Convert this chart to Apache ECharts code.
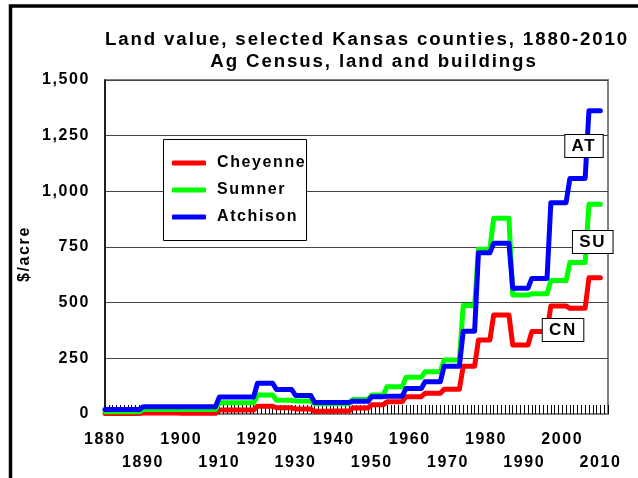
<!DOCTYPE html>
<html>
<head>
<meta charset="utf-8">
<script src="https://cdn.jsdelivr.net/npm/echarts@6/dist/echarts.min.js"></script>
<style>
  html, body { margin: 0; padding: 0; background: #fff; }
  #chart { width: 638px; height: 478px; }
</style>
</head>
<body>
<div id="chart"></div>
<script>
// Ag Census years, land and buildings, $/acre
const censusYears = [1880, 1890, 1900, 1910, 1920, 1925, 1930, 1935, 1940, 1945, 1950, 1954,
  1959, 1964, 1969, 1974, 1978, 1982, 1987, 1992, 1997, 2002, 2007]
const lastYear = 2010

const cheyenne = [2, 4, 3, 18, 35, 28, 22, 12, 13, 27, 41, 55,
  78, 93, 111, 215, 332, 445, 310, 370, 485, 475, 612]
const sumner = [10, 20, 20, 50, 85, 62, 58, 46, 46, 65, 85, 122,
  165, 190, 243, 487, 740, 879, 534, 540, 599, 680, 942]
const atchison = [20, 33, 33, 76, 138, 110, 83, 52, 52, 57, 78, 80,
  115, 145, 215, 372, 724, 767, 565, 609, 949, 1058, 1362]

const decadeLabels = [1880, 1890, 1900, 1910, 1920, 1930, 1940, 1950, 1960, 1970, 1980, 1990, 2000, 2010]

// where the series tags sit (year, $/acre)
const tagAT = [2005.7, 1204]
const tagSU = [2008, 772]
const tagCN = [2000.2, 377]

const FONT = "'Liberation Sans', Arial, sans-serif"

// Excel-style wide letter spacing, about a tenth of the font size
const ctxProto = CanvasRenderingContext2D.prototype
const origFillText = ctxProto.fillText
const origStrokeText = ctxProto.strokeText
const setSpacing = (ctx) => {
  const m = /(\d+(?:\.\d+)?)px/.exec(ctx.font)
  ctx.letterSpacing = m ? (parseFloat(m[1]) * 0.1).toFixed(2) + 'px' : '0px'
}
ctxProto.fillText = function () {
  setSpacing(this)
  return origFillText.apply(this, arguments)
}
ctxProto.strokeText = function () {
  setSpacing(this)
  return origStrokeText.apply(this, arguments)
}

// each census value holds until the year before the next census
const holdSteps = (values) => {
  const pts = []
  censusYears.forEach((y, i) => {
    pts.push([y, values[i]])
    const end = i < censusYears.length - 1 ? censusYears[i + 1] - 1 : lastYear
    if (end > y) pts.push([end, values[i]])
  })
  return pts
}

const countySeries = (name, color, values, tag, tagAt) => ({
  name,
  type: 'line',
  data: holdSteps(values),
  symbol: 'none',
  lineStyle: { color, width: 5, cap: 'round', join: 'round' },
  itemStyle: { color },
  markPoint: {
    symbol: 'rect',
    symbolSize: 1,
    itemStyle: { color: 'rgba(0,0,0,0)' },
    label: {
      show: true,
      position: 'inside',
      formatter: (p) => p.name,
      color: '#000',
      fontFamily: FONT,
      fontWeight: 'bold',
      fontSize: 17,
      backgroundColor: '#fff',
      borderColor: '#000',
      borderWidth: 1,
      padding: [3, 8, 2, 8]
    },
    data: [{ name: tag, coord: tagAt }]
  }
})

const el = document.getElementById('chart')
const chart = echarts.init(el, null, { renderer: 'canvas' })

const option = {
  animation: false,
  backgroundColor: '#fff',
  title: [
    {
      text: 'Land value, selected Kansas counties, 1880-2010',
      left: 362,
      top: 24,
      textAlign: 'center',
      textStyle: { fontFamily: FONT, fontWeight: 'bold', fontSize: 18.7, lineHeight: 22, color: '#000' }
    },
    {
      text: 'Ag Census, land and buildings',
      left: 369,
      top: 46,
      textAlign: 'center',
      textStyle: { fontFamily: FONT, fontWeight: 'bold', fontSize: 18.7, lineHeight: 22, color: '#000' }
    }
  ],
  graphic: [
    {
      type: 'rect',
      shape: { x: 10.5, y: 6, width: 700, height: 600 },
      style: { fill: 'none', stroke: '#000', lineWidth: 3.5 },
      silent: true
    },
    {
      type: 'rect',
      z: 3,
      shape: { x: 163.5, y: 139.5, width: 143, height: 101 },
      style: { fill: '#fff', stroke: '#000', lineWidth: 1 },
      silent: true
    }
  ],
  legend: {
    orient: 'vertical',
    left: 172,
    top: 155,
    padding: 0,
    itemGap: 11,
    itemWidth: 34,
    itemHeight: 5,
    icon: 'roundRect',
    z: 4,
    textStyle: { fontFamily: FONT, fontWeight: 'bold', fontSize: 16, lineHeight: 16, color: '#000', padding: [0, 0, 0, 6] },
    data: ['Cheyenne', 'Sumner', 'Atchison']
  },
  grid: {
    left: 105,
    right: 30,
    top: 80,
    bottom: 64,
    show: true,
    backgroundColor: '#fff',
    borderColor: '#808080',
    borderWidth: 2
  },
  xAxis: {
    type: 'value',
    min: 1880,
    max: 2012,
    interval: 1,
    z: 3,
    axisLine: { show: true, lineStyle: { color: '#808080', width: 2 } },
    axisTick: { show: true, inside: true, length: 9, lineStyle: { color: '#000', width: 1 } },
    splitLine: { show: false },
    axisLabel: {
      margin: 14,
      fontFamily: FONT,
      fontWeight: 'bold',
      fontSize: 16,
      lineHeight: 23,
      color: '#000',
      formatter: (v) => {
        if (!decadeLabels.includes(v)) return ''
        return (v - 1880) % 20 === 0 ? String(v) : '\n' + v
      }
    }
  },
  yAxis: {
    type: 'value',
    min: 0,
    max: 1500,
    interval: 250,
    name: '$/acre',
    nameLocation: 'middle',
    nameRotate: 90,
    nameGap: 72,
    nameTextStyle: { fontFamily: FONT, fontWeight: 'bold', fontSize: 16, color: '#000', padding: [0, 14, 0, 0] },
    axisLine: { show: true, lineStyle: { color: '#000', width: 1.5 } },
    axisTick: { show: false },
    splitLine: { show: true, lineStyle: { color: '#444', width: 1 } },
    axisLabel: {
      margin: 15,
      fontFamily: FONT,
      fontWeight: 'bold',
      fontSize: 16,
      color: '#000',
      formatter: (v) => v.toLocaleString('en-US')
    }
  },
  series: [
    countySeries('Cheyenne', '#ff0000', cheyenne, 'CN', tagCN),
    countySeries('Sumner', '#00ff00', sumner, 'SU', tagSU),
    countySeries('Atchison', '#0000ff', atchison, 'AT', tagAT)
  ]
}

chart.setOption(option)
</script>
</body>
</html>
